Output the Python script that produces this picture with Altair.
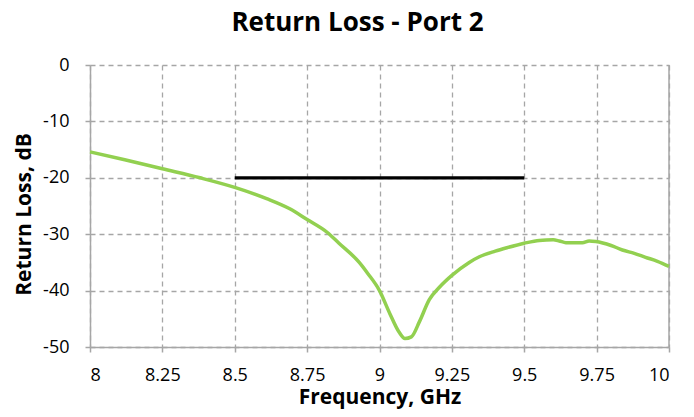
import altair as alt
import pandas as pd

freq = [8.0, 8.12, 8.25, 8.38, 8.5, 8.61, 8.69, 8.75, 8.82, 8.86, 8.93,
        8.96, 9.0, 9.035, 9.068, 9.088, 9.11, 9.138, 9.172, 9.207, 9.25, 9.31,
        9.345, 9.4, 9.44, 9.5, 9.552, 9.6, 9.621, 9.644, 9.701, 9.724, 9.747,
        9.8, 9.839, 9.88, 9.919, 9.96, 10.0]
rl = [-15.4, -16.8, -18.4, -20.0, -21.7, -23.7, -25.5, -27.4, -29.7, -31.6, -35.0,
      -37.0, -40.0, -44.0, -47.4, -48.5, -48.2, -45.5, -41.6, -39.4, -37.3, -35.0,
      -34.0, -33.0, -32.4, -31.6, -31.1, -31.0, -31.2, -31.5, -31.5, -31.2, -31.3,
      -32.0, -32.8, -33.4, -34.1, -34.8, -35.7]
spec_freq = [8.5, 9.5]
spec_db = [-20, -20]
x_ticks = [8, 8.25, 8.5, 8.75, 9, 9.25, 9.5, 9.75, 10]
y_ticks = [0, -10, -20, -30, -40, -50]

df = pd.DataFrame({"f": freq, "rl": rl})
spec = pd.DataFrame({"f": spec_freq, "rl": spec_db})

FONT = "Open Sans"
xs = alt.Scale(domain=[8, 10], nice=False, zero=False)
ys = alt.Scale(domain=[-50, 0], nice=False)

common = dict(grid=True, gridDash=[5, 4], gridColor="#a6a6a6", gridWidth=1.3,
              domainColor="#a6a6a6", domainWidth=1.5, tickColor="#a6a6a6", tickSize=5,
              tickWidth=1.5, labelFont=FONT, labelFontSize=18, labelColor="#000",
              titleFont=FONT, titleFontSize=21, titleFontWeight="bold", titleColor="#000",
              labelExpr="'' + datum.value")
xaxis = alt.Axis(values=x_ticks, title="Frequency, GHz", labelPadding=14, titlePadding=2, **common)
yaxis = alt.Axis(values=y_ticks, title="Return Loss, dB", labelPadding=16, titlePadding=8,
                 titleY=149, **common)

curve = alt.Chart(df).mark_line(color="#92D050", strokeWidth=3.5, interpolate="monotone").encode(
    x=alt.X("f:Q", scale=xs, axis=xaxis),
    y=alt.Y("rl:Q", scale=ys, axis=yaxis),
)
spec_line = alt.Chart(spec).mark_line(color="#000000", strokeWidth=3.2).encode(
    x=alt.X("f:Q", scale=xs),
    y=alt.Y("rl:Q", scale=ys),
)
right_edge = alt.Chart(pd.DataFrame({"f": [10]})).mark_rule(color="#a6a6a6", strokeWidth=1.5).encode(
    x=alt.X("f:Q", scale=xs)
)

chart = alt.layer(right_edge, spec_line, curve).properties(
    width=579, height=282,
    title=alt.TitleParams("Return Loss - Port 2", font=FONT, fontSize=26, fontWeight="bold",
                          color="#000", anchor="middle", offset=20, dx=-22),
    autosize=alt.AutoSizeParams(type="none"),
    padding={"left": 82, "top": 57, "right": 17, "bottom": 62},
).configure_view(stroke=None)

chart.save("out.html", embed_options={"renderer": "svg", "actions": False})
